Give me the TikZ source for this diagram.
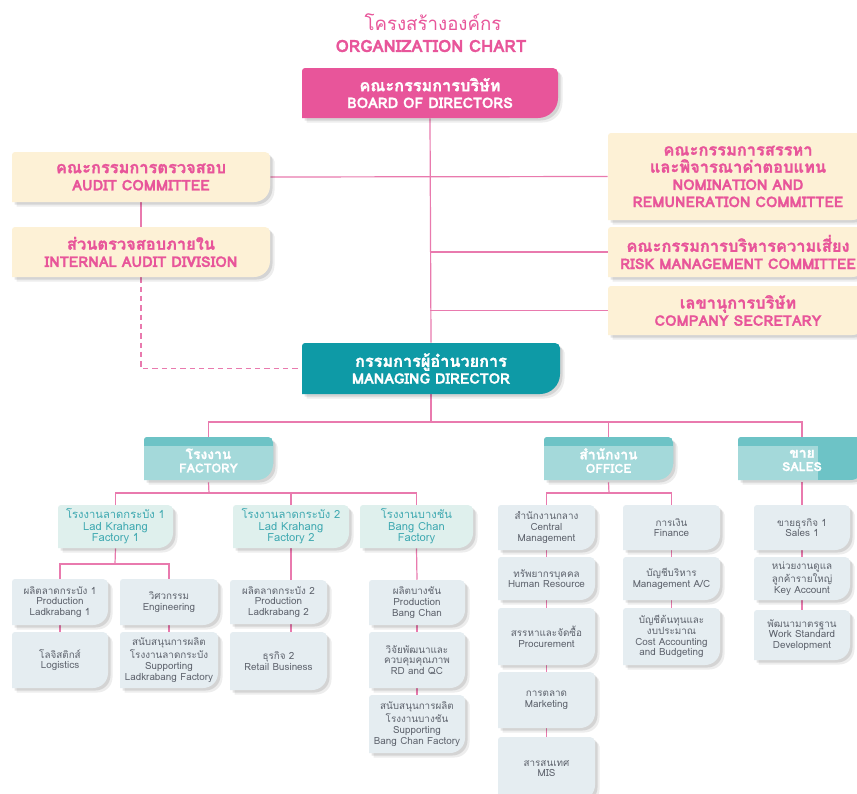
\documentclass[tikz,border=0pt]{standalone}
\usepackage{fontspec}
\setmainfont{Loma}[Script=Thai,BoldFeatures={FakeBold=1.3}]
\newfontfamily\thx{Loma}[Script=Thai,Scale=1.12,BoldFeatures={FakeBold=1.3}]
\usetikzlibrary{calc,backgrounds}
\pgfdeclarelayer{bottom}
\pgfsetlayers{bottom,background,main}
\definecolor{pk}{HTML}{E8559A}
\definecolor{lnc}{HTML}{E97AAE}
\definecolor{cream}{HTML}{FDF1D6}
\definecolor{cMD}{HTML}{0E9AA6}
\definecolor{cHL}{HTML}{A4D9DA}
\definecolor{cHD}{HTML}{6DC3C6}
\definecolor{cFac}{HTML}{DFF0ED}
\definecolor{cTT}{HTML}{3FA9B1}
\definecolor{cSm}{HTML}{E5EDF1}
\definecolor{cST}{HTML}{5E636D}
\newcommand\shp[5]{(#1,#4) -- (#1,#2+3) .. controls (#1,#2+1.3) and (#1+1.3,#2) .. (#1+3,#2) -- (#3-5,#2) .. controls (#3-2.2,#2) and (#3,#2+2.2) .. (#3,#2+5) -- (#3,#4-#5) .. controls (#3,#4-0.45*#5) and (#3-0.45*#5,#4) .. (#3-#5,#4) -- cycle}
\newcommand\shd[5]{%
  \fill[black,opacity=0.07,shift={(4.5,4.5)}] \shp{#1}{#2}{#3}{#4}{#5};
  \fill[black,opacity=0.10,shift={(2.5,2.5)}] \shp{#1}{#2}{#3}{#4}{#5};}
\newcommand\obox[9]{%
  \shd{#2}{#3}{#4}{#5}{#6}%
  \fill[#7] \shp{#2}{#3}{#4}{#5}{#6};
  \node[#8,inner sep=0pt,minimum width={(#4-#2)*0.75pt},minimum height={(#5-#3)*0.75pt}] (#1) at ({(#2+#4)/2},{(#3+#5)/2}) {#9};}
\newcommand\hdrbox[7]{%
  \shd{#2}{#3}{#4}{#5}{16}%
  \fill[cHL] \shp{#2}{#3}{#4}{#5}{16};
  \begin{scope}
    \clip \shp{#2}{#3}{#4}{#5}{16};
    \fill[cHD] (#2,#3) rectangle (#4,#3+9);
    \fill[cHD] (#6,#3) rectangle (#4,#5);
  \end{scope}
  \node[tHdr,inner sep=0pt,minimum width={(#4-#2)*0.75pt},minimum height={(#5-#3)*0.75pt}] (#1) at ({(#2+#4)/2},{(#3+#5)/2+2}) {#7};}
\tikzset{
  conn/.style={draw=lnc,line width=0.9pt},
  tBoard/.style={text=white,align=center,font=\bfseries\fontsize{10.9}{12.6}\selectfont},
  tCom/.style={text=pk,align=center,font=\bfseries\fontsize{11}{12.9}\selectfont},
  tHdr/.style={text=white,align=center,font=\bfseries\fontsize{9.3}{10}\selectfont},
  tFac/.style={text=cTT,align=center,font=\fontsize{8.4}{8.7}\selectfont},
  tSm/.style={text=cST,align=center,font=\fontsize{7.4}{8.1}\selectfont},
}
\begin{document}
\begin{tikzpicture}[x=0.75pt,y=-0.75pt]
\clip (0,0) rectangle (857,793);
\begin{pgfonlayer}{bottom}
\fill[white] (0,0) rectangle (857,793);
\end{pgfonlayer}
% title
\node[text=pk,font=\fontsize{14}{16}\selectfont] (t1) at (433,22) {โครงสร้างองค์กร};
\node[text=pk,font=\bfseries\fontsize{12.6}{14}\selectfont] (t2) at (431,46) {ORGANIZATION CHART};
% top level
\obox{board}{302}{68}{558}{118}{20}{pk}{tBoard}{{\thx คณะกรรมการบริษัท}\\BOARD OF DIRECTORS}
\obox{audit}{12}{152}{270}{202}{16}{cream}{tCom}{{\thx คณะกรรมการตรวจสอบ}\\AUDIT COMMITTEE}
\obox{iad}{12}{227}{270}{277}{16}{cream}{tCom}{{\thx ส่วนตรวจสอบภายใน}\\INTERNAL AUDIT DIVISION}
\obox{nom}{608}{133}{868}{220}{16}{cream}{tCom}{{\thx คณะกรรมการสรรหา}\\{\thx และพิจารณาค่าตอบแทน}\\NOMINATION AND\\REMUNERATION COMMITTEE}
\obox{risk}{608}{227}{868}{277}{16}{cream}{tCom}{{\thx คณะกรรมการบริหารความเสี่ยง}\\RISK MANAGEMENT COMMITTEE}
\obox{sec}{608}{286}{868}{335}{16}{cream}{tCom}{{\thx เลขานุการบริษัท}\\COMPANY SECRETARY}
\obox{md}{302}{343}{560}{394}{20}{cMD}{tBoard}{{\thx กรรมการผู้อำนวยการ}\\MANAGING DIRECTOR}
% headers
\hdrbox{factory}{144}{437}{273}{480}{273}{{\thx โรงงาน}\\FACTORY}
\hdrbox{office}{544}{437}{673}{480}{673}{{\thx สำนักงาน}\\OFFICE}
\hdrbox{sales}{738}{437}{866}{480}{818}{{\thx ขาย}\\SALES}
% factories
\obox{f1}{58}{505}{173}{548}{15}{cFac}{tFac}{โรงงานลาดกระบัง 1\\Lad Krahang\\Factory 1}
\obox{f2}{233}{505}{349}{548}{15}{cFac}{tFac}{โรงงานลาดกระบัง 2\\Lad Krahang\\Factory 2}
\obox{bc}{360}{505}{473}{548}{15}{cFac}{tFac}{โรงงานบางชัน\\Bang Chan\\Factory}
% factory 1 units
\obox{pl1}{12}{579}{108}{625}{15}{cSm}{tSm}{ผลิตลาดกระบัง 1\\Production\\Ladkrabang 1}
\obox{eng}{120}{579}{218}{625}{15}{cSm}{tSm}{วิศวกรรม\\Engineering}
\obox{log}{12}{632}{108}{688}{15}{cSm}{tSm}{โลจิสติกส์\\Logistics}
\obox{sup1}{120}{632}{218}{688}{15}{cSm}{tSm}{สนับสนุนการผลิต\\โรงงานลาดกระบัง\\Supporting\\Ladkrabang Factory}
% factory 2 units
\obox{pl2}{230}{580}{327}{624}{15}{cSm}{tSm}{ผลิตลาดกระบัง 2\\Production\\Ladkrabang 2}
\obox{ret}{230}{632}{327}{690}{15}{cSm}{tSm}{ธุรกิจ 2\\Retail Business}
% bang chan units
\obox{pbc}{369}{580}{465}{625}{15}{cSm}{tSm}{ผลิตบางชัน\\Production\\Bang Chan}
\obox{rd}{369}{632}{465}{688}{15}{cSm}{tSm}{วิจัยพัฒนาและ\\ควบคุมคุณภาพ\\RD and QC}
\obox{sbc}{369}{695}{465}{753}{15}{cSm}{tSm}{สนับสนุนการผลิต\\โรงงานบางชัน\\Supporting\\Bang Chan Factory}
% office units
\obox{cm}{498}{505}{595}{550}{15}{cSm}{tSm}{สำนักงานกลาง\\Central\\Management}
\obox{hr}{498}{557}{595}{600}{15}{cSm}{tSm}{ทรัพยากรบุคคล\\Human Resource}
\obox{proc}{498}{608}{595}{665}{15}{cSm}{tSm}{สรรหาและจัดซื้อ\\Procurement}
\obox{mkt}{498}{672}{595}{728}{15}{cSm}{tSm}{การตลาด\\Marketing}
\obox{mis}{498}{737}{595}{800}{15}{cSm}{tSm}{สารสนเทศ\\MIS}
\obox{fin}{623}{505}{720}{550}{15}{cSm}{tSm}{การเงิน\\Finance}
\obox{mac}{623}{557}{720}{600}{15}{cSm}{tSm}{บัญชีบริหาร\\Management A/C}
\obox{cost}{623}{608}{720}{665}{15}{cSm}{tSm}{บัญชีต้นทุนและ\\งบประมาณ\\Cost Accounting\\and Budgeting}
% sales units
\obox{s1}{754}{505}{850}{550}{15}{cSm}{tSm}{ขายธุรกิจ 1\\Sales 1}
\obox{ka}{754}{557}{850}{600}{15}{cSm}{tSm}{หน่วยงานดูแล\\ลูกค้ารายใหญ่\\Key Account}
\obox{ws}{754}{610}{850}{660}{15}{cSm}{tSm}{พัฒนามาตรฐาน\\Work Standard\\Development}
% connectors
\begin{scope}[on background layer]
\coordinate (bus) at (431,422);
\coordinate (fb) at (209,493);
\coordinate (f1b) at (115,564);
\coordinate (ob) at (609,493);
\draw[conn] (board.south) -- (md.north);
\draw[conn] (audit.east) -- (nom.west);
\draw[conn] (audit.south) -- (iad.north);
\draw[conn] (risk.west) -- (risk.west -| board.south);
\draw[conn] (sec.west) -- (sec.west -| board.south);
\draw[conn,dash pattern=on 4pt off 3pt] (iad.south) |- (md.west);
\draw[conn] (md.south) -- (bus);
\draw[conn] (factory.north) |- (bus) -| (sales.north);
\draw[conn] (office.north) -- (office.north |- bus);
\draw[conn] (factory.south) -- (fb);
\draw[conn] (f1.north) |- (fb) -| (bc.north);
\draw[conn] (f2.north) -- (f2.north |- fb);
\draw[conn] (f1.south) -- (f1b);
\draw[conn] (pl1.north) |- (f1b) -| (eng.north);
\draw[conn] (pl1.south) -- (log.north);
\draw[conn] (eng.south) -- (sup1.north);
\draw[conn] (f2.south) -- (f2.south |- pl2.north);
\draw[conn] (pl2.south -| f2.south) -- (ret.north -| f2.south);
\draw[conn] (bc.south) -- (pbc.north);
\draw[conn] (pbc.south) -- (rd.north);
\draw[conn] (rd.south) -- (sbc.north);
\draw[conn] (office.south) -- (ob);
\draw[conn] (cm.north) |- (ob) -| (fin.north);
\draw[conn] (cm.south) -- (hr.north);
\draw[conn] (hr.south) -- (proc.north);
\draw[conn] (proc.south) -- (mkt.north);
\draw[conn] (mkt.south) -- (mis.north);
\draw[conn] (fin.south) -- (mac.north);
\draw[conn] (mac.south) -- (cost.north);
\draw[conn] (sales.south) -- (s1.north);
\draw[conn] (s1.south) -- (ka.north);
\draw[conn] (ka.south) -- (ws.north);
\end{scope}
\end{tikzpicture}
\end{document}
